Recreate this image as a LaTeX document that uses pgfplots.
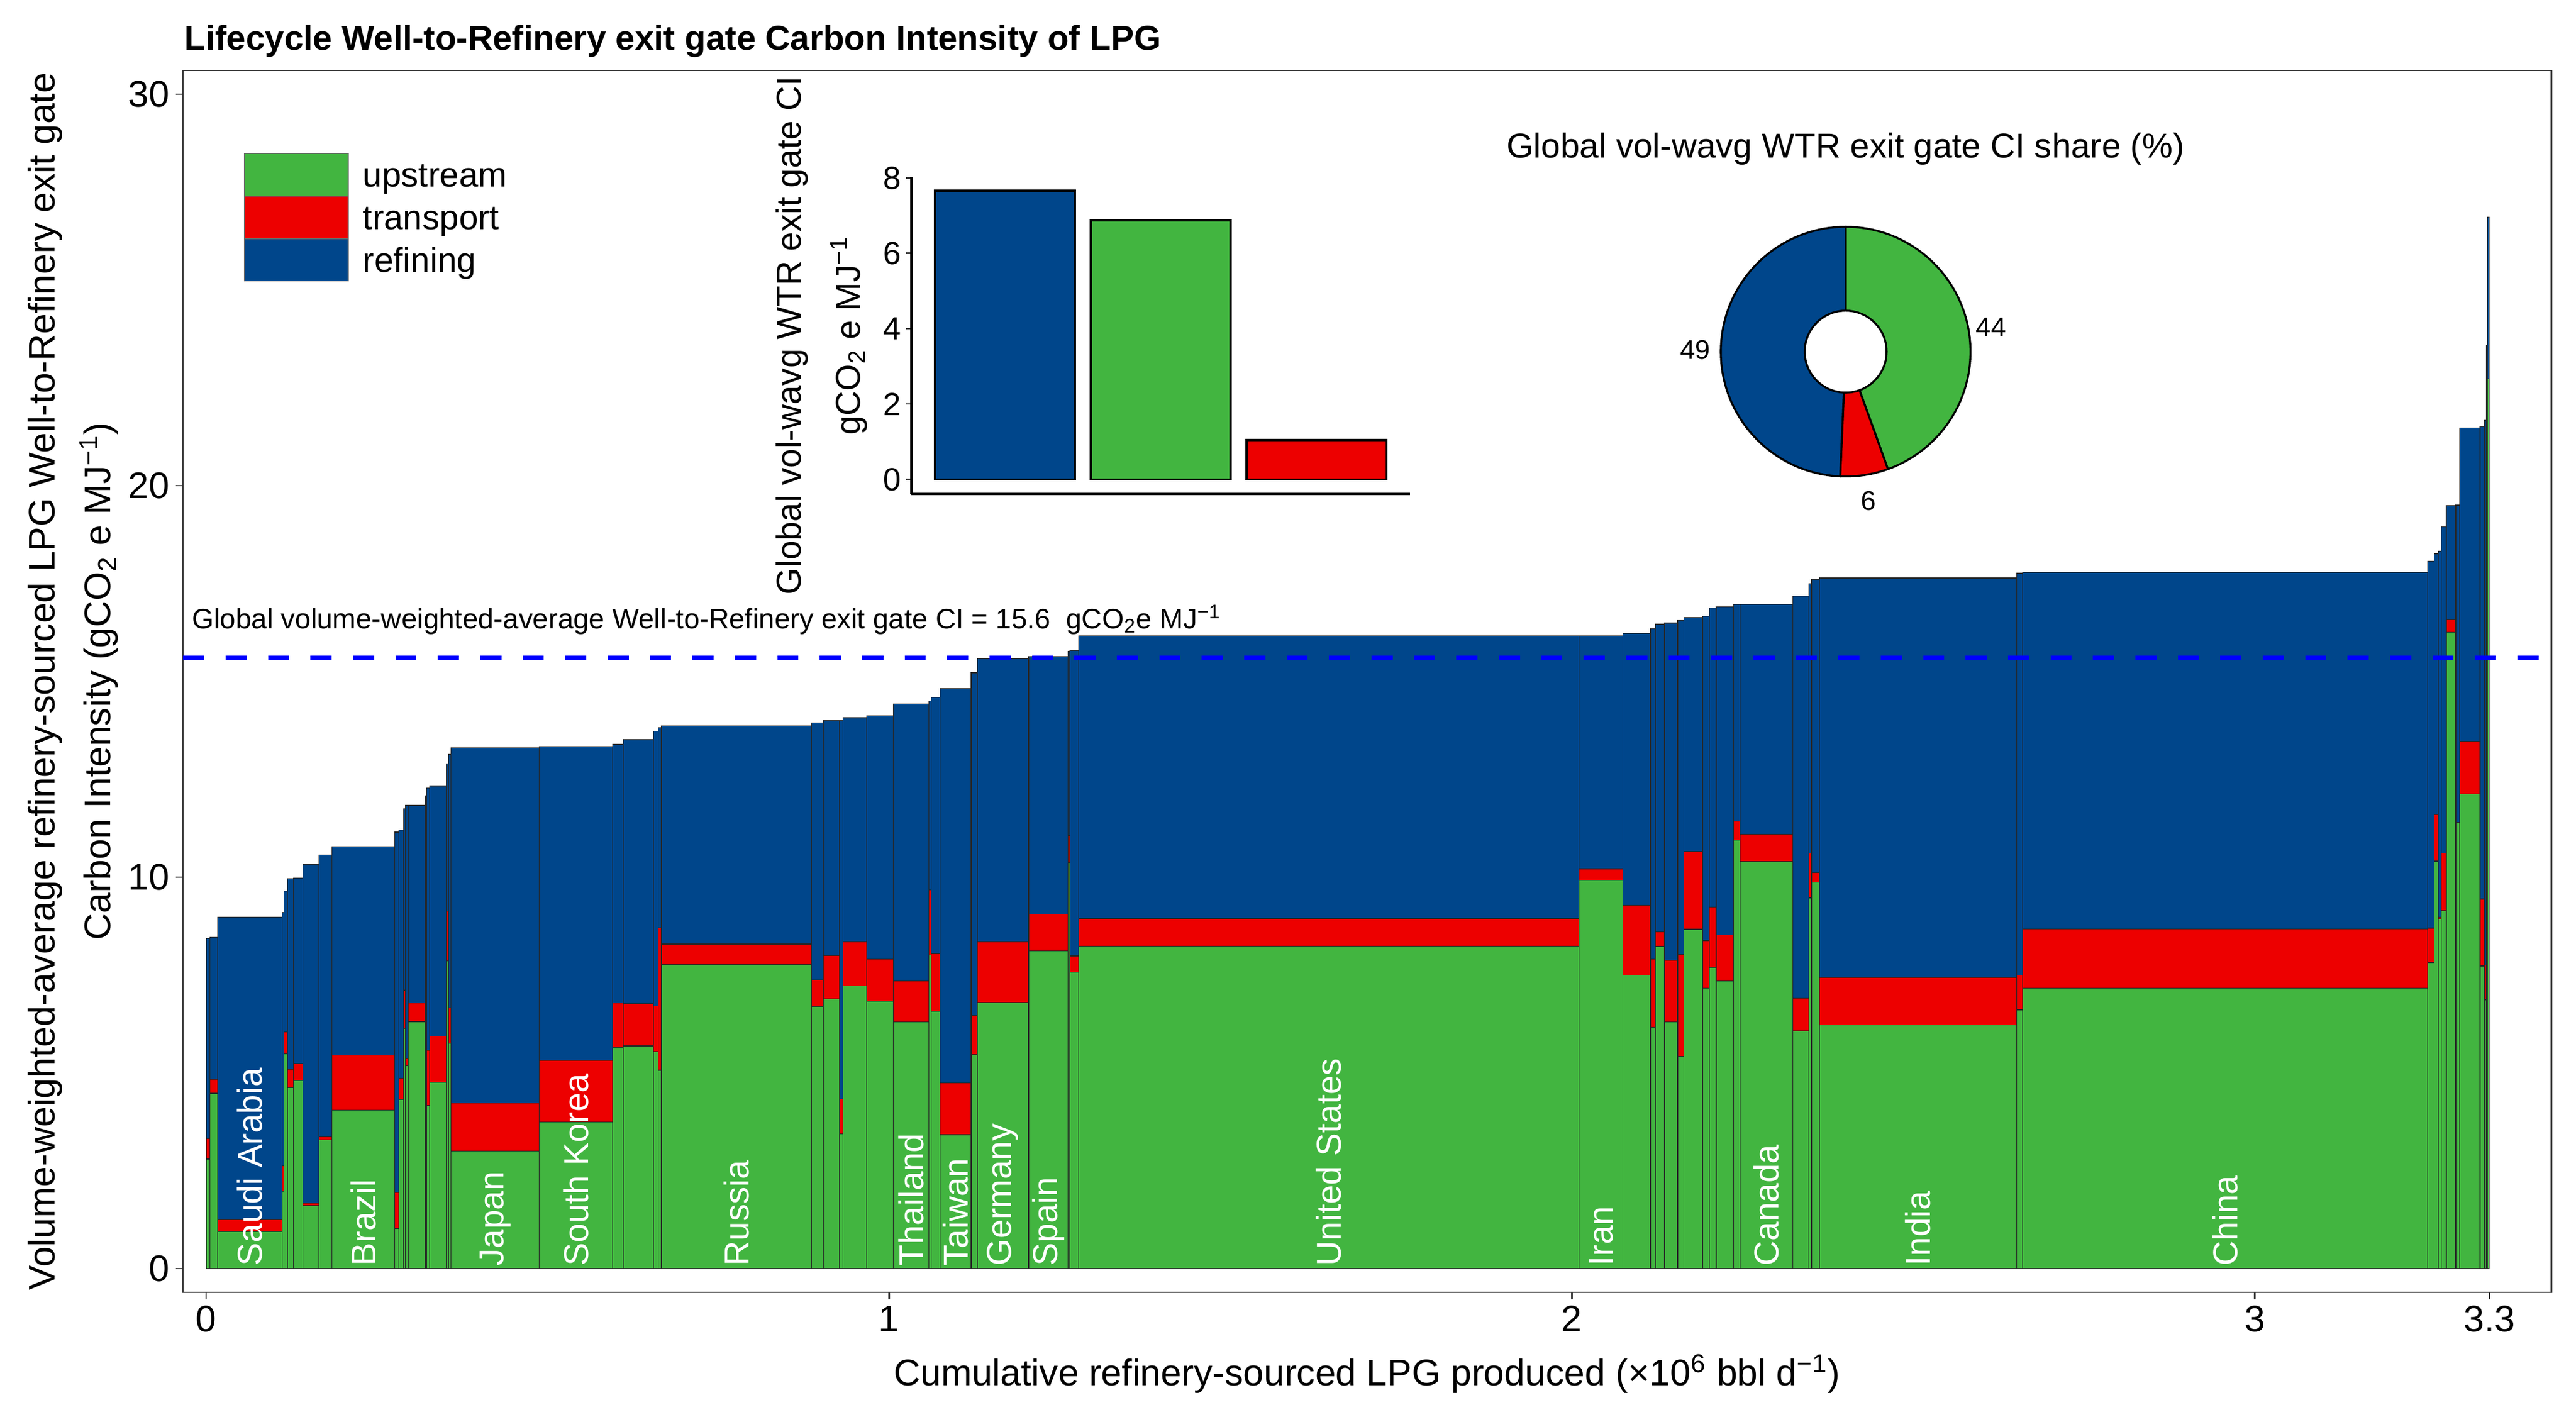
\documentclass[border=0pt]{standalone}
\usepackage{fontspec}
\setmainfont{Liberation Sans}
\usepackage{pgfplots}
\usepackage{pgfplotstable}
\pgfplotsset{compat=1.18}
\definecolor{lblue}{HTML}{00468B}
\definecolor{lred}{HTML}{ED0000}
\definecolor{lgreen}{HTML}{42B540}
\newcommand{\fs}[1]{\fontsize{#1}{#1}\selectfont}

% x = left edge of each refinery-country bar, T = total CI,
% UT = upstream + transport, U = upstream
\pgfplotstableread{
x T UT U
0.0000 8.44 3.33 2.80
0.0056 8.47 4.83 4.48
0.0167 8.98 1.245 0.95
0.1114 9.10 2.63 1.97
0.1136 9.64 6.05 5.49
0.1194 9.96 5.09 4.63
0.1282 9.98 5.24 4.80
0.1419 10.32 1.67 1.61
0.1649 10.57 3.37 3.29
0.1840 10.78 5.45 4.05
0.2760 11.15 1.94 1.03
0.2822 11.20 4.87 4.32
0.2893 11.75 7.11 6.13
0.2919 11.83 5.36 5.18
0.2963 11.83 6.78 6.31
0.3207 12.08 8.86 8.55
0.3229 12.28 5.58 4.17
0.3273 12.33 5.94 4.76
0.3517 12.90 9.13 7.86
0.3552 13.13 6.67 5.76
0.3583 13.30 4.23 3.00
0.4880 13.34 5.32 3.74
0.5955 13.39 6.79 5.65
0.6110 13.51 6.77 5.69
0.6552 13.73 6.71 5.54
0.6619 13.82 8.71 5.07
0.6667 13.87 8.29 7.76
0.8867 13.94 7.37 6.69
0.9040 14.00 8.00 6.89
0.9274 14.00 4.33 3.44
0.9328 14.07 8.35 7.22
0.9673 14.12 7.91 6.83
1.0066 14.42 7.34 6.30
1.0584 14.50 9.67 8.01
1.0615 14.59 8.05 6.57
1.0748 14.82 4.74 3.42
1.1204 15.22 6.47 5.47
1.1292 15.58 8.35 6.80
1.2044 15.63 9.06 8.12
1.2619 15.77 11.06 10.37
1.2650 15.79 7.99 7.57
1.2774 16.16 8.94 8.24
2.0107 16.16 10.21 9.92
2.0749 16.22 9.28 7.50
2.1151 16.34 7.91 6.17
2.1227 16.46 8.60 8.23
2.1359 16.49 7.88 6.30
2.1550 16.56 8.03 5.42
2.1638 16.63 10.66 8.67
2.1913 16.66 8.38 7.16
2.2014 16.87 9.24 7.69
2.2112 16.91 8.52 7.35
2.2368 16.97 11.43 10.94
2.2466 16.97 11.10 10.40
2.3235 17.18 6.91 6.07
2.3470 17.49 10.61 9.47
2.3510 17.60 10.11 9.87
2.3625 17.64 7.44 6.23
2.6514 17.76 7.50 6.61
2.6600 17.78 8.68 7.16
3.2533 18.07 8.70 7.82
3.2625 18.26 11.60 10.41
3.2689 18.33 8.98 8.93
3.2735 18.95 10.61 9.14
3.2805 19.49 16.57 16.26
3.2944 19.50 11.40 11.40
3.2999 21.47 13.47 12.13
3.3299 21.50 9.44 7.73
3.3360 21.67 7.75 6.87
3.3395 23.59 16.26 14.70
3.3410 26.86 22.73 22.73
3.3437 0 0 0
}\bars

\begin{document}
\begin{tikzpicture}
\useasboundingbox (0,0) rectangle (1044pt,576pt);

% ---------------- main chart ----------------
\begin{axis}[
  at={(74.2pt,52.3pt)}, anchor=south west, scale only axis,
  width=959.8pt, height=495.1pt,
  xmin=-0.0338, xmax=3.4344, ymin=-0.605, ymax=30.6,
  xtick={0,1,2,3,3.3437}, xticklabels={0,1,2,3,3.3},
  ytick={0,10,20,30},
  tick pos=left,
  tick align=outside, major tick length=2.9pt,
  every tick/.style={black!80, line width=0.6pt},
  axis line style={black!80, line width=0.6pt},
  ticklabel style={font=\fs{15}, inner sep=2.4pt},
  /pgf/number format/assume math mode=true,
]
\addplot[ybar interval, fill=lblue, draw=black!85, line width=0.3pt] table[x=x,y=T]{\bars};
\addplot[ybar interval, fill=lred, draw=black!85, line width=0.3pt] table[x=x,y=UT]{\bars};
\addplot[ybar interval, fill=lgreen, draw=black!85, line width=0.3pt] table[x=x,y=U]{\bars};
\addplot[blue, line width=2pt, dash pattern=on 8.6pt off 8.6pt] coordinates {(-0.0338,15.6) (3.4344,15.6)};
\node[anchor=base west, inner sep=0pt, font=\fs{11.4}] at (axis cs:-0.0213,16.35)
  {Global volume-weighted-average Well-to-Refinery exit gate CI = 15.6~~gCO\textsubscript{2}e MJ\textsuperscript{−1}};
\tikzset{clab/.style={rotate=90, anchor=west, inner sep=0pt, text=white, font=\fs{14}}}
\node[clab] at (axis cs:0.0641,0.06) {Saudi Arabia};
\node[clab] at (axis cs:0.2300,0.06) {Brazil};
\node[clab] at (axis cs:0.4232,0.06) {Japan};
\node[clab] at (axis cs:0.5418,0.06) {South Korea};
\node[clab] at (axis cs:0.7767,0.06) {Russia};
\node[clab] at (axis cs:1.0325,0.06) {Thailand};
\node[clab] at (axis cs:1.0976,0.06) {Taiwan};
\node[clab] at (axis cs:1.1668,0.06) {Germany};
\node[clab] at (axis cs:1.2332,0.06) {Spain};
\node[clab] at (axis cs:1.6441,0.06) {United States};
\node[clab] at (axis cs:2.0428,0.06) {Iran};
\node[clab] at (axis cs:2.2851,0.06) {Canada};
\node[clab] at (axis cs:2.5070,0.06) {India};
\node[clab] at (axis cs:2.9567,0.06) {China};
\end{axis}

% ---------------- legend ----------------
\draw[fill=lgreen, draw=black!60, line width=0.3pt] (99.1pt,496.5pt) rectangle (141.1pt,513.7pt);
\draw[fill=lred, draw=black!60, line width=0.3pt] (99.1pt,479.3pt) rectangle (141.1pt,496.5pt);
\draw[fill=lblue, draw=black!60, line width=0.3pt] (99.1pt,462.1pt) rectangle (141.1pt,479.3pt);
\node[anchor=base west, inner sep=0pt, font=\fs{14}] at (146.9pt,500.2pt) {upstream};
\node[anchor=base west, inner sep=0pt, font=\fs{14}] at (146.9pt,483.0pt) {transport};
\node[anchor=base west, inner sep=0pt, font=\fs{14}] at (146.9pt,465.8pt) {refining};

% ---------------- inset bar chart ----------------
\begin{axis}[
  at={(369.4pt,375.9pt)}, anchor=south west, scale only axis,
  width=202pt, height=128.3pt,
  xmin=0.4, xmax=3.6, ymin=-0.382, ymax=8.02,
  axis x line*=bottom, axis y line*=left,
  axis line style={black, line width=1pt},
  xtick=\empty, ytick={0,2,4,6,8},
  tick align=outside, major tick length=2.2pt,
  every tick/.style={black!80, line width=0.6pt},
  ticklabel style={font=\fs{13}, inner sep=1.7pt},
  /pgf/number format/assume math mode=true,
]
\addplot[ybar, bar width=0.9, bar shift=0pt, fill=lblue, draw=black, line width=0.9pt] coordinates {(1,7.66)};
\addplot[ybar, bar width=0.9, bar shift=0pt, fill=lgreen, draw=black, line width=0.9pt] coordinates {(2,6.88)};
\addplot[ybar, bar width=0.9, bar shift=0pt, fill=lred, draw=black, line width=0.9pt] coordinates {(3,1.04)};
\end{axis}
\node[rotate=90, anchor=base, inner sep=0pt, font=\fs{14}] at (324.5pt,440pt) {Global vol-wavg WTR exit gate CI};
\node[rotate=90, anchor=base, inner sep=0pt, font=\fs{14}] at (348.5pt,440pt) {gCO\textsubscript{2} e MJ\textsuperscript{−1}};

% ---------------- inset donut ----------------
\pgfmathsetmacro\shU{44.5}
\pgfmathsetmacro\shT{6.2}
\pgfmathsetmacro\shR{49.3}
\pgfmathsetmacro\aU{90-3.6*\shU}
\pgfmathsetmacro\aT{\aU-3.6*\shT}
\pgfmathsetmacro\aR{\aT-3.6*\shR}
\begin{axis}[
  at={(697.4pt,382.9pt)}, anchor=south west, scale only axis,
  width=101.2pt, height=101.2pt,
  xmin=-1, xmax=1, ymin=-1, ymax=1, hide axis, clip=false,
]
\filldraw[fill=lgreen, draw=black, line width=0.8pt] (axis cs:0,0) -- ++(90:50.6pt) arc[start angle=90, end angle=\aU, radius=50.6pt] -- cycle;
\filldraw[fill=lred, draw=black, line width=0.8pt] (axis cs:0,0) -- ++(\aU:50.6pt) arc[start angle=\aU, end angle=\aT, radius=50.6pt] -- cycle;
\filldraw[fill=lblue, draw=black, line width=0.8pt] (axis cs:0,0) -- ++(\aT:50.6pt) arc[start angle=\aT, end angle=-270, radius=50.6pt] -- cycle;
\filldraw[fill=white, draw=black, line width=0.8pt] (axis cs:0,0) circle[radius=16.6pt];
\end{axis}
\node[anchor=base, inner sep=0pt, font=\fs{14}] at (748pt,512.1pt) {Global vol-wavg WTR exit gate CI share (\%)};
\node[inner sep=0pt, font=\fs{11}] at (806.9pt,443.3pt) {44};
\node[inner sep=0pt, font=\fs{11}] at (687.1pt,434.2pt) {49};
\node[inner sep=0pt, font=\fs{11}] at (757.2pt,373.0pt) {6};

% ---------------- titles ----------------
\node[anchor=base west, inner sep=0pt, font=\fs{14}\bfseries] at (74.6pt,555.8pt)
  {Lifecycle Well-to-Refinery exit gate Carbon Intensity of LPG};
\node[rotate=90, anchor=base, inner sep=0pt, font=\fs{15}] at (22.3pt,299.9pt)
  {Volume-weighted-average refinery-sourced LPG Well-to-Refinery exit gate};
\node[rotate=90, anchor=base, inner sep=0pt, font=\fs{15}] at (44.8pt,299.9pt)
  {Carbon Intensity (gCO\textsubscript{2} e MJ\textsuperscript{−1})};
\node[anchor=base, inner sep=0pt, font=\fs{15}] at (554pt,14.6pt)
  {Cumulative refinery-sourced LPG produced (×10\textsuperscript{6} bbl d\textsuperscript{−1})};
\end{tikzpicture}
\end{document}
